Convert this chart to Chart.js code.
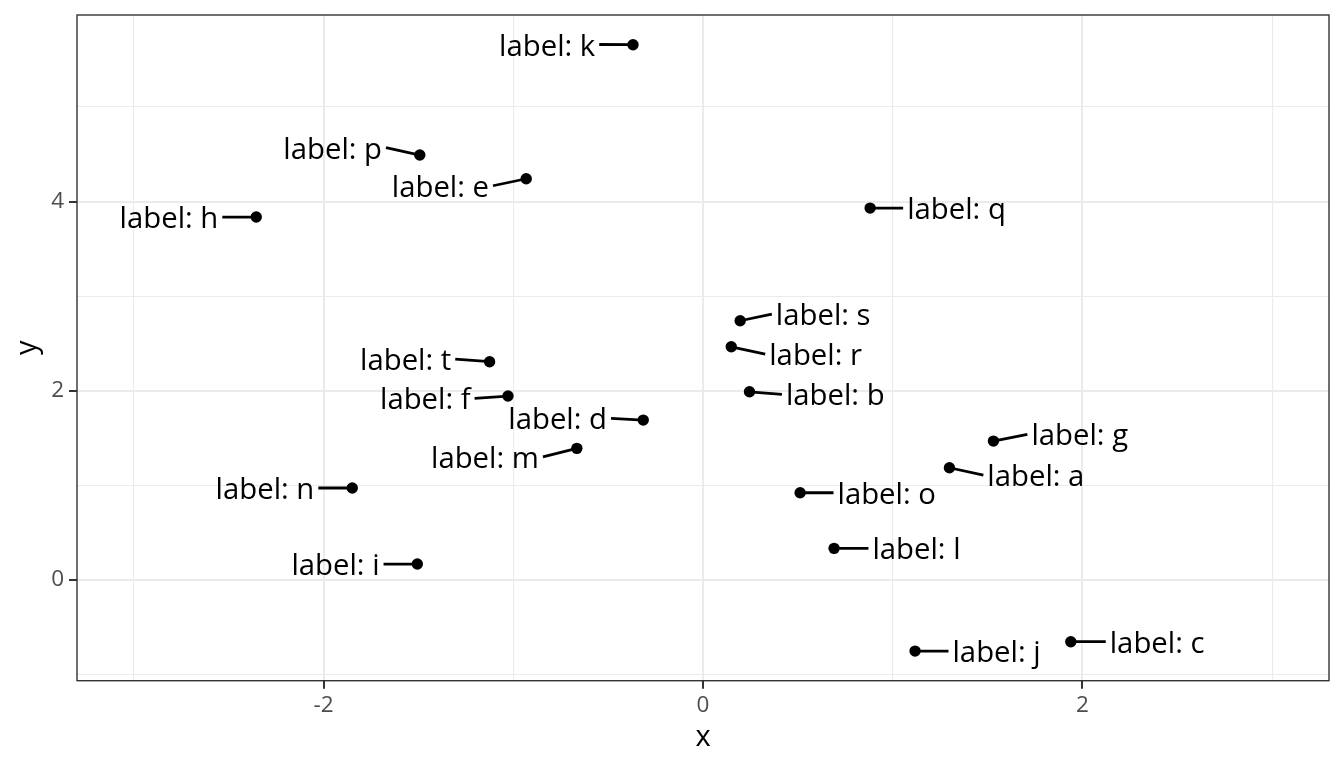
<!DOCTYPE html>
<html><head><meta charset="utf-8">
<script src="https://cdn.jsdelivr.net/npm/chart.js@4"></script>
<style>html,body{margin:0;padding:0;background:#fff}canvas{display:block}</style>
</head><body>
<canvas id="c" width="1344" height="768"></canvas>
<script>
// ---- data ----
const names   = ['a','b','c','d','e','f','g','h','i','j','k','l','m','n','o','p','q','r','s','t'];
const xValues = [1.299,0.245,1.939,-0.315,-0.932,-1.028,1.531,-2.355,-1.506,1.118,-0.369,0.691,-0.665,-1.849,0.512,-1.493,0.881,0.149,0.196,-1.125];
const yValues = [1.187,1.990,-0.652,1.691,4.242,1.945,1.469,3.837,0.169,-0.751,5.659,0.335,1.392,0.973,0.923,4.493,3.932,2.466,2.741,2.308];
// repelled label anchor positions (data units, where the leader segment meets the label)
const labelX  = [1.478,0.416,2.123,-0.485,-1.107,-1.204,1.710,-2.534,-1.684,1.294,-0.547,0.872,-0.844,-2.028,0.688,-1.671,1.055,0.328,0.363,-1.306];
const labelY  = [1.110,1.963,-0.652,1.709,4.168,1.921,1.540,3.837,0.169,-0.751,5.661,0.335,1.303,0.973,0.923,4.570,3.932,2.389,2.812,2.336];
const xGridValues = [-3,-2,-1,0,1,2,3];
const yGridValues = [-1,0,1,2,3,4,5];
const xTickValues = [-2,0,2];
const xTickLabels = ['-2','0','2'];
const yTickValues = [0,2,4];
const yTickLabels = ['0','2','4'];
const xTitle = 'x', yTitle = 'y';

const FONT = '"Open Sans", "Noto Sans", sans-serif';
const points = xValues.map((x,i)=>({x:x, y:yValues[i]}));

const repelPlugin = {
  id: 'repel',
  beforeDatasetsDraw(chart){
    const ctx = chart.ctx, xs = chart.scales.x, ys = chart.scales.y;
    ctx.save();
    ctx.strokeStyle = '#000'; ctx.lineWidth = 2.8; ctx.lineCap = 'butt';
    names.forEach((n,i)=>{
      ctx.beginPath();
      ctx.moveTo(xs.getPixelForValue(xValues[i]), ys.getPixelForValue(yValues[i]));
      ctx.lineTo(xs.getPixelForValue(labelX[i]), ys.getPixelForValue(labelY[i]));
      ctx.stroke();
    });
    ctx.restore();
  },
  afterDatasetsDraw(chart){
    const ctx = chart.ctx, xs = chart.scales.x, ys = chart.scales.y;
    ctx.save();
    ctx.fillStyle = '#000'; ctx.font = '29.3px ' + FONT; ctx.textBaseline = 'alphabetic';
    names.forEach((n,i)=>{
      const ax = xs.getPixelForValue(labelX[i]), ay = ys.getPixelForValue(labelY[i]);
      const px = xs.getPixelForValue(xValues[i]);
      const left = ax < px;
      ctx.textAlign = left ? 'right' : 'left';
      ctx.fillText('label: ' + n, left ? ax - 4 : ax + 4, ay + 11);
    });
    ctx.restore();
  },
  afterDraw(chart){
    const ctx = chart.ctx, a = chart.chartArea;
    ctx.save();
    ctx.strokeStyle = '#333333'; ctx.lineWidth = 1.4;
    ctx.strokeRect(a.left, a.top, a.right - a.left, a.bottom - a.top);
    ctx.fillStyle = '#000'; ctx.font = '29px ' + FONT;
    ctx.textAlign = 'center'; ctx.textBaseline = 'alphabetic';
    ctx.fillText(xTitle, (a.left + a.right)/2, 746);
    ctx.translate(35.5, (a.top + a.bottom)/2);
    ctx.rotate(-Math.PI/2);
    ctx.fillText(yTitle, 0, 0);
    ctx.restore();
  }
};

function gridOpts(majors){
  return {
    color: '#ebebeb',
    lineWidth: c => majors.includes(c.tick && c.tick.value) ? 2 : 1.1,
    drawTicks: true,
    tickLength: 8,
    tickWidth: 2,
    tickColor: c => majors.includes(c.tick && c.tick.value) ? '#333333' : 'rgba(0,0,0,0)'
  };
}

new Chart(document.getElementById('c'), {
  type: 'scatter',
  data: { datasets: [{ data: points, backgroundColor: '#000', borderColor: '#000', pointRadius: 5.7, pointHoverRadius: 5.7, borderWidth: 0 }] },
  options: {
    responsive: false, devicePixelRatio: 1, animation: false,
    layout: { padding: { top: 15, right: 15, left: 0, bottom: 0 } },
    plugins: { legend: { display: false }, tooltip: { enabled: false } },
    scales: {
      x: {
        type: 'linear', min: -3.3, max: 3.3,
        afterBuildTicks: s => { s.ticks = xGridValues.map(v => ({ value: v })); },
        afterFit: s => { s.height = 87.3; s.paddingLeft = 0; s.paddingRight = 0; },
        grid: gridOpts(xTickValues),
        border: { display: false },
        ticks: { autoSkip: false, maxRotation: 0, padding: 3, color: '#4d4d4d', font: { family: FONT, size: 22.5 },
          callback: v => { const k = xTickValues.indexOf(v); return k >= 0 ? xTickLabels[k] : ''; } }
      },
      y: {
        type: 'linear', min: -1.064, max: 5.973,
        afterBuildTicks: s => { s.ticks = yGridValues.map(v => ({ value: v })); },
        afterFit: s => { s.width = 77; s.paddingTop = 0; s.paddingBottom = 0; },
        grid: gridOpts(yTickValues),
        border: { display: false },
        ticks: { autoSkip: false, padding: 5, color: '#4d4d4d', font: { family: FONT, size: 22.5 },
          callback: v => { const k = yTickValues.indexOf(v); return k >= 0 ? yTickLabels[k] : ''; } }
      }
    }
  },
  plugins: [repelPlugin]
});
</script>
</body></html>
